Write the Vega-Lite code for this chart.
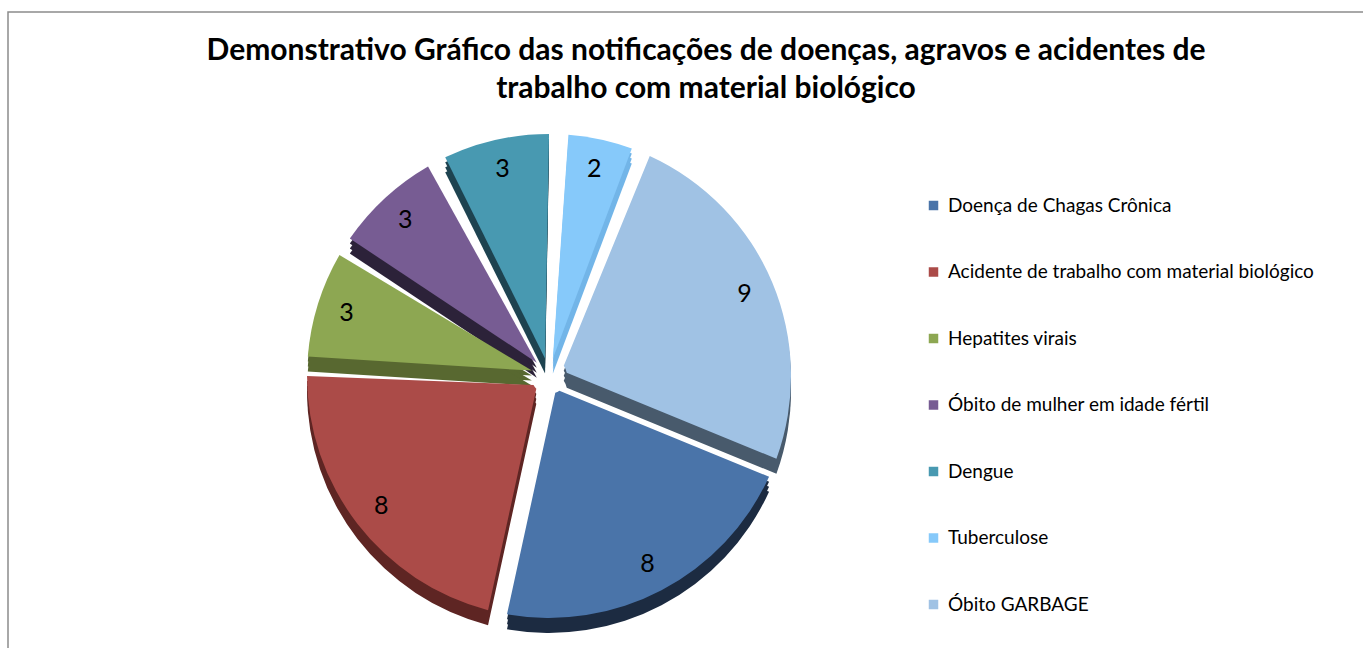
{
  "$schema": "https://vega.github.io/schema/vega-lite/v6.json",
  "width": 1363,
  "height": 648,
  "autosize": {"type": "fit", "contains": "padding"},
  "padding": {"left": 8, "top": 12, "right": -3, "bottom": -3},
  "background": "white",
  "config": {"view": {"stroke": "#8c8c8c", "strokeWidth": 1.5}},
  "title": {
    "text": ["Demonstrativo Gráfico das notificações  de doenças, agravos e acidentes de", "trabalho com material biológico"],
    "font": "Lato",
    "fontSize": 30,
    "fontWeight": "bold",
    "color": "#000000",
    "anchor": "middle",
    "frame": "group",
    "offset": -92,
    "dx": 19,
    "lineHeight": 38
  },
  "data": {
    "values": [
      {"ord": 1, "name": "Doença de Chagas Crônica", "value": 8},
      {"ord": 2, "name": "Acidente de trabalho com material biológico", "value": 8},
      {"ord": 3, "name": "Hepatites virais", "value": 3},
      {"ord": 4, "name": "Óbito de mulher em idade fértil", "value": 3},
      {"ord": 5, "name": "Dengue", "value": 3},
      {"ord": 6, "name": "Tuberculose", "value": 2},
      {"ord": 7, "name": "Óbito GARBAGE", "value": 9}
    ]
  },
  "encoding": {
    "theta": {"field": "value", "type": "quantitative", "stack": true, "scale": {"range": [1.96, 8.2432]}},
    "order": {"field": "ord", "type": "quantitative"},
    "x": {"datum": 0.3984, "type": "quantitative", "scale": {"domain": [0, 1]}, "axis": null},
    "y": {"datum": 0.4304, "type": "quantitative", "scale": {"domain": [0, 1]}, "axis": null}
  },
  "layer": [
    {
      "mark": {"type": "arc", "outerRadius": 242, "innerRadius": 18, "padAngle": 0.08, "yOffset": 5},
      "encoding": {
        "color": {"field": "name", "type": "nominal", "legend": null,
          "scale": {"domain": ["Doença de Chagas Crônica", "Acidente de trabalho com material biológico", "Hepatites virais", "Óbito de mulher em idade fértil", "Dengue", "Tuberculose", "Óbito GARBAGE"],
                    "range": ["#1c2b41", "#5e2523", "#586830", "#2c2239", "#1e4350", "#72b5e8", "#485a6c"]}}
      }
    },
    {
      "mark": {"type": "arc", "outerRadius": 242, "innerRadius": 18, "padAngle": 0.08, "yOffset": 10},
      "encoding": {
        "color": {"field": "name", "type": "nominal", "legend": null,
          "scale": {"domain": ["Doença de Chagas Crônica", "Acidente de trabalho com material biológico", "Hepatites virais", "Óbito de mulher em idade fértil", "Dengue", "Tuberculose", "Óbito GARBAGE"],
                    "range": ["#1c2b41", "#5e2523", "#586830", "#2c2239", "#1e4350", "#72b5e8", "#485a6c"]}}
      }
    },
    {
      "mark": {"type": "arc", "outerRadius": 242, "innerRadius": 18, "padAngle": 0.08, "yOffset": 15},
      "encoding": {
        "color": {"field": "name", "type": "nominal", "legend": null,
          "scale": {"domain": ["Doença de Chagas Crônica", "Acidente de trabalho com material biológico", "Hepatites virais", "Óbito de mulher em idade fértil", "Dengue", "Tuberculose", "Óbito GARBAGE"],
                    "range": ["#1c2b41", "#5e2523", "#586830", "#2c2239", "#1e4350", "#72b5e8", "#485a6c"]}}
      }
    },
    {
      "mark": {"type": "arc", "outerRadius": 242, "innerRadius": 18, "padAngle": 0.08},
      "encoding": {
        "color": {"field": "name", "type": "nominal",
          "scale": {"domain": ["Doença de Chagas Crônica", "Acidente de trabalho com material biológico", "Hepatites virais", "Óbito de mulher em idade fértil", "Dengue", "Tuberculose", "Óbito GARBAGE"],
                    "range": ["#4a74a9", "#ab4b48", "#8da752", "#775c93", "#4899b1", "#86c9fa", "#a0c2e4"]},
          "legend": {"orient": "none", "legendX": 916, "legendY": 184, "title": null, "symbolType": "square", "symbolSize": 90, "symbolStrokeWidth": 0,
                     "labelFont": "Lato", "labelFontSize": 19, "labelColor": "#000000", "rowPadding": 46.5, "labelOffset": 5, "padding": 0, "labelLimit": 500}
        }
      }
    },
    {
      "mark": {"type": "text", "radius": 212, "font": "Lato", "fontSize": 25, "color": "#000000"},
      "encoding": {"text": {"field": "value", "type": "quantitative"}}
    }
  ],
  "resolve": {"scale": {"color": "independent"}}
}
